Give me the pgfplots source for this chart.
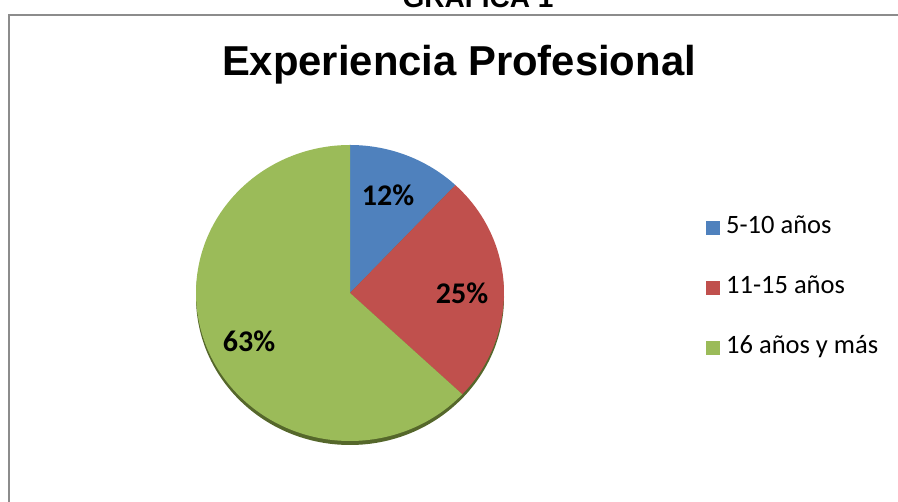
\documentclass[border=0pt]{standalone}
\usepackage{fontspec}
\setmainfont{Carlito}
\newfontfamily\arialfont{Liberation Sans}
\usepackage{pgfplots}
\usepackage{pgfplotstable}
\pgfplotsset{compat=1.18}

\definecolor{sliceA}{HTML}{4F81BD}
\definecolor{sliceB}{HTML}{C0504D}
\definecolor{sliceC}{HTML}{9BBB59}
\definecolor{shadowc}{HTML}{55672B}
\definecolor{framec}{HTML}{8C8C8C}

% share of each group, in percent
\pgfplotstableread[col sep=comma]{
label,value
5-10 años,12
11-15 años,25
16 años y más,63
}\piedata

% pie centre and radii, in axis units (1 unit = 1pt)
\newcommand\cx{350}
\newcommand\cy{209}
\newcommand\rx{154}
\newcommand\ry{148}
\newcommand\slice[3]{%
  \fill[#3] (axis cs:\cx,\cy) -- (axis cs:{\cx+\rx*cos(#1)},{\cy+\ry*sin(#1)})
    arc[start angle=#1, end angle=#2, x radius=\rx pt, y radius=\ry pt] -- cycle;}

\begin{document}
\begin{tikzpicture}
\pgfplotstablegetelem{0}{value}\of\piedata \let\va\pgfplotsretval
\pgfplotstablegetelem{1}{value}\of\piedata \let\vb\pgfplotsretval
\pgfplotstablegetelem{2}{value}\of\piedata \let\vc\pgfplotsretval
\pgfmathsetmacro\aA{90}
\pgfmathsetmacro\aB{\aA-3.6*\va}
\pgfmathsetmacro\aC{\aB-3.6*\vb}
\pgfmathsetmacro\aD{\aC-3.6*\vc}
\begin{axis}[
    scale only axis,
    width=898pt, height=502pt,
    xmin=0, xmax=898, ymin=0, ymax=502,
    hide axis, clip=false,
    legend cell align=left,
    legend style={
        at={(axis cs:703,288)}, anchor=north west,
        draw=none, fill=none,
        font=\fontsize{26.5}{31}\selectfont,
        row sep=37pt,
        nodes={inner sep=0pt, text height=17pt, text depth=6pt},
        /tikz/every odd column/.append style={column sep=6pt},
    },
    legend image code/.code={\fill[#1, draw=none] (0pt,-7pt) rectangle (14pt,7pt);},
]
% frame of the chart area
\draw[framec, line width=2.5pt] (axis cs:9,-20) -- (axis cs:9,487) -- (axis cs:920,487);
% heading, cut at the top edge
\node[anchor=base, font=\arialfont\bfseries\fontsize{28}{32}\selectfont]
    at (axis cs:478,494) {GRÁFICA 1};
\node[anchor=base, font=\arialfont\bfseries\fontsize{41.8}{46}\selectfont]
    at (axis cs:459,426) {Experiencia Profesional};

% pie
\fill[shadowc] (axis cs:\cx,\cy-4) ellipse[x radius=\rx pt, y radius=\ry pt];
\slice{\aA}{\aB}{sliceA}
\slice{\aB}{\aC}{sliceB}
\slice{\aC}{\aD}{sliceC}

\node[anchor=base, font=\bfseries\fontsize{30}{36}\selectfont] at (axis cs:388,296) {12\%};
\node[anchor=base, font=\bfseries\fontsize{30}{36}\selectfont] at (axis cs:462,198) {25\%};
\node[anchor=base, font=\bfseries\fontsize{30}{36}\selectfont] at (axis cs:249,150) {63\%};

\addlegendimage{fill=sliceA, draw=none}
\addlegendentry{5-10 años}
\addlegendimage{fill=sliceB, draw=none}
\addlegendentry{11-15 años}
\addlegendimage{fill=sliceC, draw=none}
\addlegendentry{16 años y más}
\end{axis}
\pgfresetboundingbox
\path[use as bounding box] (0,0) rectangle (898pt,502pt);
\end{tikzpicture}
\end{document}
